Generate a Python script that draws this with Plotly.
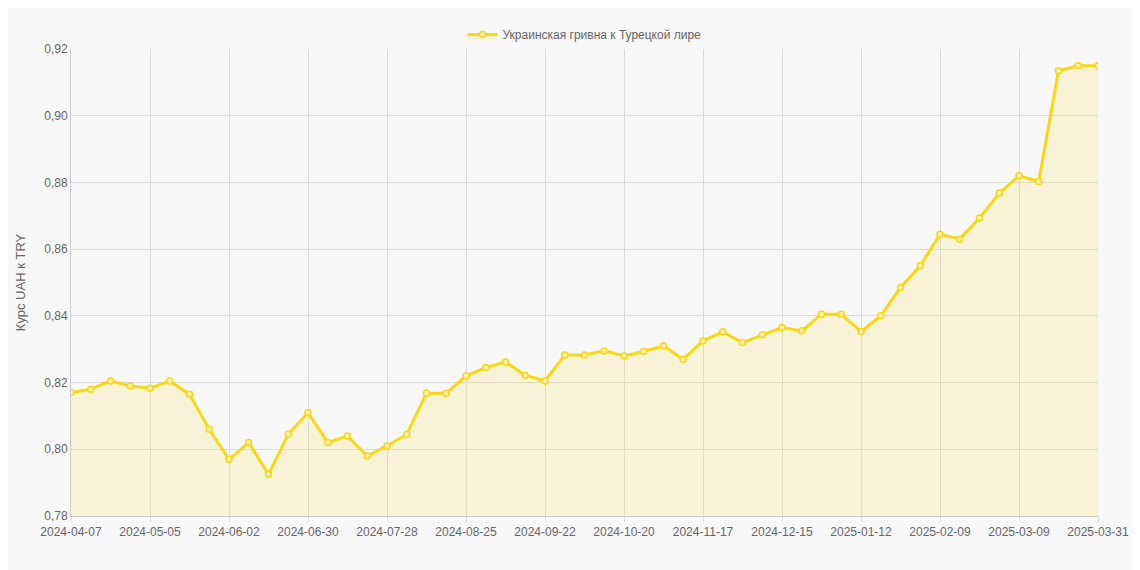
import plotly.graph_objects as go
import datetime as dt

start = dt.date(2024, 4, 7)
dates = [(start + dt.timedelta(weeks=i)).isoformat() for i in range(52)] + ["2025-03-31"]
values = [0.817, 0.818, 0.8205, 0.819, 0.8183, 0.8205, 0.8165, 0.806, 0.797, 0.802,
          0.7925, 0.8045, 0.811, 0.802, 0.804, 0.798, 0.801, 0.8045, 0.8168, 0.8168,
          0.822, 0.8245, 0.8262, 0.8222, 0.8205, 0.8283, 0.8283, 0.8295, 0.828, 0.8293,
          0.831, 0.827, 0.8325, 0.8352, 0.832, 0.8343, 0.8365, 0.8355, 0.8405, 0.8405,
          0.8353, 0.840, 0.8485, 0.855, 0.8645, 0.863, 0.8693, 0.8768, 0.882, 0.8803,
          0.9135, 0.915, 0.915]
tickvals = dates[0:49:4] + [dates[-1]]

fig = go.Figure(go.Scatter(
    x=dates, y=values, mode="lines+markers", name="Украинская гривна к Турецкой лире",
    line=dict(color="rgb(250,215,20)", width=3),
    marker=dict(size=6, color="rgba(250,240,180,1)", line=dict(color="rgb(250,215,20)", width=1.5)),
    fill="tozeroy", fillcolor="rgba(250,215,20,0.15)"))
fig.update_layout(
    width=1140, height=570, paper_bgcolor="#f8f8f8", plot_bgcolor="#f8f8f8",
    margin=dict(l=54, r=50, t=24, b=62),
    font=dict(family="Liberation Sans, Arial", size=12, color="#666"),
    showlegend=True,
    legend=dict(orientation="h", x=0.5, xanchor="center", y=1.0, yanchor="bottom", font=dict(size=12)),
    xaxis=dict(type="category", tickvals=tickvals, ticktext=tickvals, showgrid=True, gridcolor="#ddd",
               range=[0, len(dates) - 1], ticks="outside", tickcolor="#ddd", linecolor="#ccc", tickangle=0),
    yaxis=dict(range=[0.78, 0.92], dtick=0.02, tickformat=".2f",
               showgrid=True, gridcolor="#ddd", linecolor="#ccc", title=dict(text="Курс UAH к TRY", font=dict(size=13))),
    separators=", ",
)
fig.write_html("out.html")
